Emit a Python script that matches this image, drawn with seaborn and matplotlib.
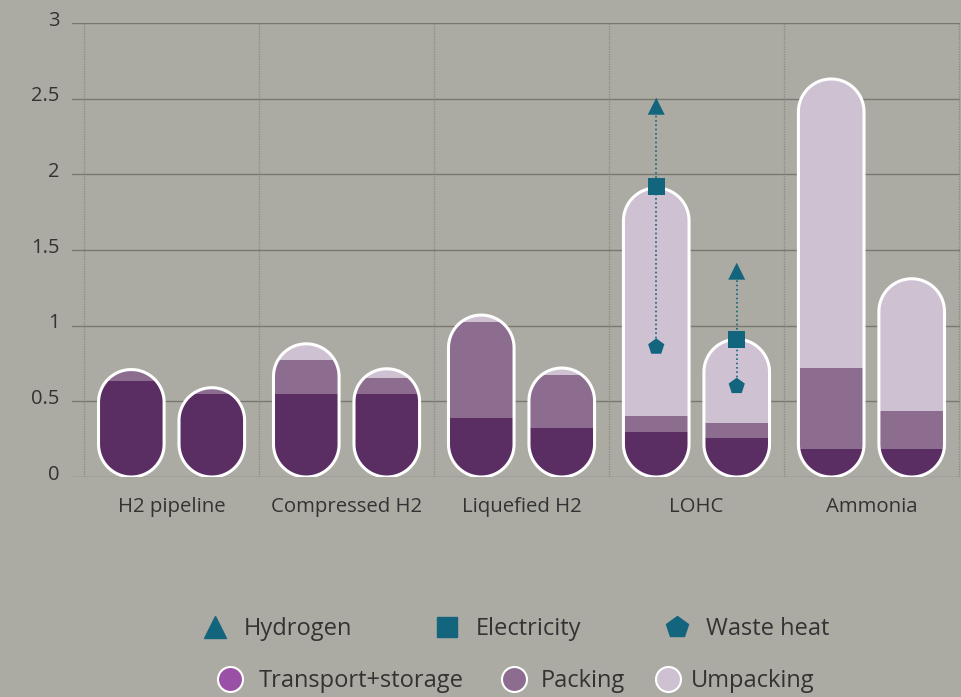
import numpy as np
import pandas as pd
import matplotlib
matplotlib.use("Agg")
import matplotlib.pyplot as plt
import seaborn as sns
from matplotlib.path import Path
from matplotlib.patches import PathPatch
from matplotlib.lines import Line2D
from matplotlib.transforms import ScaledTranslation

# ---------------- data ----------------
categories = ["H2 pipeline", "Compressed H2", "Liquefied H2", "LOHC", "Ammonia"]
variants = ["A", "B"]
# bar order: cat0-A, cat0-B, cat1-A, cat1-B, ...
transport = [0.635, 0.55, 0.55, 0.55, 0.39, 0.325, 0.30, 0.26, 0.185, 0.185]
packing = [0.075, 0.04, 0.22, 0.105, 0.635, 0.35, 0.10, 0.10, 0.535, 0.25]
unpacking = [0.0, 0.0, 0.11, 0.06, 0.045, 0.045, 1.51, 0.55, 1.91, 0.875]

# LOHC energy markers (variant A, variant B)
lohc_hydrogen = [2.45, 1.36]
lohc_electricity = [1.92, 0.91]
lohc_waste_heat = [0.86, 0.60]

y_ticks = [0, 0.5, 1, 1.5, 2, 2.5, 3]
y_tick_labels = ["0", "0.5", "1", "1.5", "2", "2.5", "3"]

energy_labels = ["Hydrogen", "Electricity", "Waste heat"]
stage_labels = ["Transport+storage", "Packing", "Umpacking"]

# ---------------- style ----------------
BG = "#acaba3"
C_TRANS = "#5b2e63"
C_PACK = "#8c6d8f"
C_UNPACK = "#cdc1d2"
C_TRANS_LEG = "#9b50a8"
TEAL = "#12657d"
TXT = "#333333"

sns.set_theme(style="white")
plt.rcParams["font.family"] = ["Open Sans", "DejaVu Sans"]
plt.rcParams["text.color"] = TXT

W, H = 961, 697
fig = plt.figure(figsize=(W / 100, H / 100), dpi=100, facecolor=BG)
ax = fig.add_axes([72 / W, (H - 477) / H, (960 - 72) / W, (477 - 23) / H])
ax.set_facecolor(BG)

df = pd.DataFrame({
    "category": np.repeat(categories, 2),
    "variant": variants * len(categories),
    "transport": transport,
    "packing": packing,
    "unpacking": unpacking,
})
df["lvl_t"] = df["transport"]
df["lvl_tp"] = df["transport"] + df["packing"]
df["lvl_total"] = df["lvl_tp"] + df["unpacking"]

layers = [("lvl_total", C_UNPACK), ("lvl_tp", C_PACK), ("lvl_t", C_TRANS)]
for col, color in layers:
    sns.barplot(data=df, x="category", y=col, hue="variant", order=categories,
                hue_order=variants, palette={v: color for v in variants},
                width=0.92, gap=0.185, dodge=True, errorbar=None, saturation=1,
                linewidth=0, legend=False, ax=ax, zorder=2)

ax.set_xlim(-0.569, 4.506)
ax.set_ylim(0, 3)

# capsule shapes (from the total bars = first drawn set)
n_bars = len(df)
bar_patches = list(ax.patches)
total_patches = bar_patches[:n_bars]

p0 = ax.transData.transform((0, 0))
p1 = ax.transData.transform((1, 1))
sx, sy = p1[0] - p0[0], p1[1] - p0[1]


def capsule(xc, w, h, n=60):
    rx = w / 2
    ry = rx * sx / sy
    t_top = np.linspace(np.pi, 0, n)
    t_bot = np.linspace(0, -np.pi, n)
    xs = np.concatenate([xc + rx * np.cos(t_top), xc + rx * np.cos(t_bot)])
    ys = np.concatenate([(h - ry) + ry * np.sin(t_top), ry + ry * np.sin(t_bot)])
    verts = np.column_stack([xs, ys])
    verts = np.vstack([verts, verts[:1]])
    codes = [Path.MOVETO] + [Path.LINETO] * (len(verts) - 2) + [Path.CLOSEPOLY]
    return Path(verts, codes)


caps = {}
for p in total_patches:
    xc = p.get_x() + p.get_width() / 2
    caps[round(xc, 4)] = capsule(xc, p.get_width(), p.get_height())

for p in bar_patches:
    xc = round(p.get_x() + p.get_width() / 2, 4)
    key = min(caps, key=lambda k: abs(k - xc))
    clip = PathPatch(caps[key], transform=ax.transData)
    p.set_clip_path(clip)

for key, path in caps.items():
    ax.add_patch(PathPatch(path, facecolor="none", edgecolor="white",
                           linewidth=2.2, zorder=3))

# LOHC energy markers
centers = sorted(caps)
lohc_x = centers[6:8]
for x, lo, hi in zip(lohc_x, lohc_waste_heat, lohc_hydrogen):
    ax.plot([x, x], [lo, hi], color=TEAL, lw=1.2, ls=(0, (1, 1.6)), zorder=4)

df_e = pd.DataFrame({
    "x": lohc_x * 3,
    "value": lohc_hydrogen + lohc_electricity + lohc_waste_heat,
    "carrier": [energy_labels[0]] * 2 + [energy_labels[1]] * 2 + [energy_labels[2]] * 2,
})
marker_map = {energy_labels[0]: "^", energy_labels[1]: "s", energy_labels[2]: "p"}
sns.scatterplot(data=df_e, x="x", y="value", style="carrier", markers=marker_map,
                color=TEAL, s=150, linewidth=0, legend=False, ax=ax, zorder=5)
ax.set_xlim(-0.569, 4.506)
ax.set_ylim(0, 3)

# axes cosmetics
ax.set_xlabel("")
ax.set_ylabel("")
ax.set_yticks(y_ticks)
ax.set_yticklabels(y_tick_labels)
ax.set_xticks(range(len(categories)))
ax.set_xticklabels(categories)
ax.set_xticks(np.arange(-0.5, len(categories), 1.0), minor=True)
for s in ax.spines.values():
    s.set_visible(False)
ax.set_axisbelow(True)
ax.grid(axis="y", which="major", color="#787770", lw=1.0, ls="-")
ax.grid(axis="x", which="major", visible=False)
ax.grid(axis="x", which="minor", color="#8a8983", lw=0.9, ls=(0, (1, 1)))
ax.tick_params(axis="both", which="both", length=0)
ax.tick_params(axis="y", pad=9, labelsize=14.5, labelcolor=TXT)
ax.tick_params(axis="x", pad=14.5, labelsize=14.7, labelcolor=TXT)
for lab in ax.get_yticklabels():
    lab.set_transform(lab.get_transform() + ScaledTranslation(0, 0.05, fig.dpi_scale_trans))

# legends (one entry each, placed like the reference)
h1 = [Line2D([], [], marker="^", color=TEAL, ls="none", markersize=16),
      Line2D([], [], marker="s", color=TEAL, ls="none", markersize=14),
      Line2D([], [], marker="p", color=TEAL, ls="none", markersize=16)]
row1_x = [203, 435, 665]
for h, lab, x in zip(h1, energy_labels, row1_x):
    fig.legend([h], [lab], loc="center left", bbox_to_anchor=(x / W, 1 - 629 / H),
               frameon=False, fontsize=17, handletextpad=0.72, handlelength=1.0,
               borderaxespad=0, borderpad=0, labelcolor=TXT)

h2 = [Line2D([], [], marker="o", ls="none", markersize=18, markerfacecolor=c,
             markeredgecolor="white", markeredgewidth=1.5)
      for c in [C_TRANS_LEG, C_PACK, C_UNPACK]]
row2_x = [218, 502, 656]
row2_pad = [0.72, 0.64, 0.47]
for h, lab, x, pad in zip(h2, stage_labels, row2_x, row2_pad):
    fig.legend([h], [lab], loc="center left", bbox_to_anchor=(x / W, 1 - 681 / H),
               frameon=False, fontsize=17, handletextpad=pad, handlelength=1.0,
               borderaxespad=0, borderpad=0, labelcolor=TXT)

fig.savefig("out.png", dpi=100, facecolor=BG)
